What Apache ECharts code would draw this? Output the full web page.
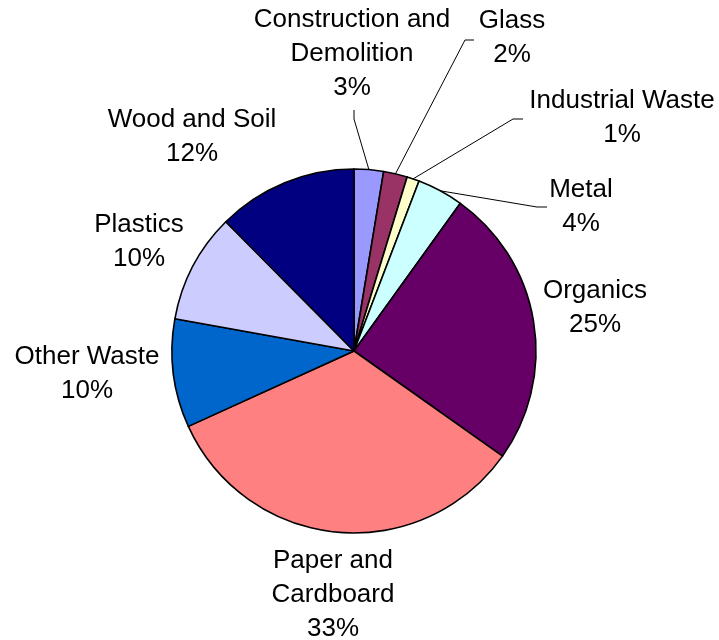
<!DOCTYPE html>
<html>
<head>
<meta charset="utf-8">
<script src="https://cdn.jsdelivr.net/npm/echarts@6/dist/echarts.min.js"></script>
<style>
html,body{margin:0;padding:0;background:#fff;}
#chart{width:719px;height:640px;}
</style>
</head>
<body>
<div id="chart"></div>
<script>
const categories = ['Construction and\nDemolition', 'Glass', 'Industrial Waste', 'Metal', 'Organics', 'Paper and\nCardboard', 'Other Waste', 'Plastics', 'Wood and Soil'];
const shares = [2.6, 2.1, 1.1, 4.1, 24.8, 33.3, 9.6, 9.7, 12.4];
const colors = ['#9999FF', '#993366', '#FFFFCC', '#CCFFFF', '#660066', '#FF8080', '#0066CC', '#CCCCFF', '#000080'];

// label placement (text centres) and leader line bends
const labelPos = [
  {x: 352, y: 54, line: [[354, 119], [354, 110]]},
  {x: 512, y: 38, line: [[465, 40], [474, 40]]},
  {x: 622, y: 118, line: [[513, 119], [523, 119]]},
  {x: 581, y: 207, line: [[537, 207], [547, 207]]},
  {x: 595, y: 308},
  {x: 333, y: 595},
  {x: 87, y: 374},
  {x: 139, y: 242},
  {x: 192, y: 137}
];
const withLine = [true, true, true, true, false, false, false, false, false];

const chart = echarts.init(document.getElementById('chart'), null, {renderer: 'canvas'});
chart.setOption({
  animation: false,
  backgroundColor: '#ffffff',
  series: [{
    type: 'pie',
    center: [354, 351],
    radius: 182,
    startAngle: 90,
    clockwise: true,
    percentPrecision: 2,
    avoidLabelOverlap: false,
    itemStyle: {borderColor: '#000', borderWidth: 1.6},
    label: {
      show: true,
      position: 'outside',
      fontFamily: 'Liberation Sans, Arial, sans-serif',
      fontSize: 26,
      lineHeight: 34,
      color: '#000',
      align: 'center',
      formatter: p => p.name + '\n' + Math.round(p.percent) + '%'
    },
    labelLine: {show: true, length: 10, length2: 10, lineStyle: {color: '#000', width: 1}},
    labelLayout: function (params) {
      const lp = labelPos[params.dataIndex];
      const res = {x: lp.x, y: lp.y, align: 'center', verticalAlign: 'middle'};
      if (lp.line && params.labelLinePoints) {
        res.labelLinePoints = [params.labelLinePoints[0], lp.line[0], lp.line[1]];
      }
      return res;
    },
    emphasis: {disabled: true},
    data: categories.map((c, i) => ({
      name: c,
      value: shares[i],
      itemStyle: {color: colors[i]},
      labelLine: {show: withLine[i]}
    }))
  }]
});
</script>
</body>
</html>
